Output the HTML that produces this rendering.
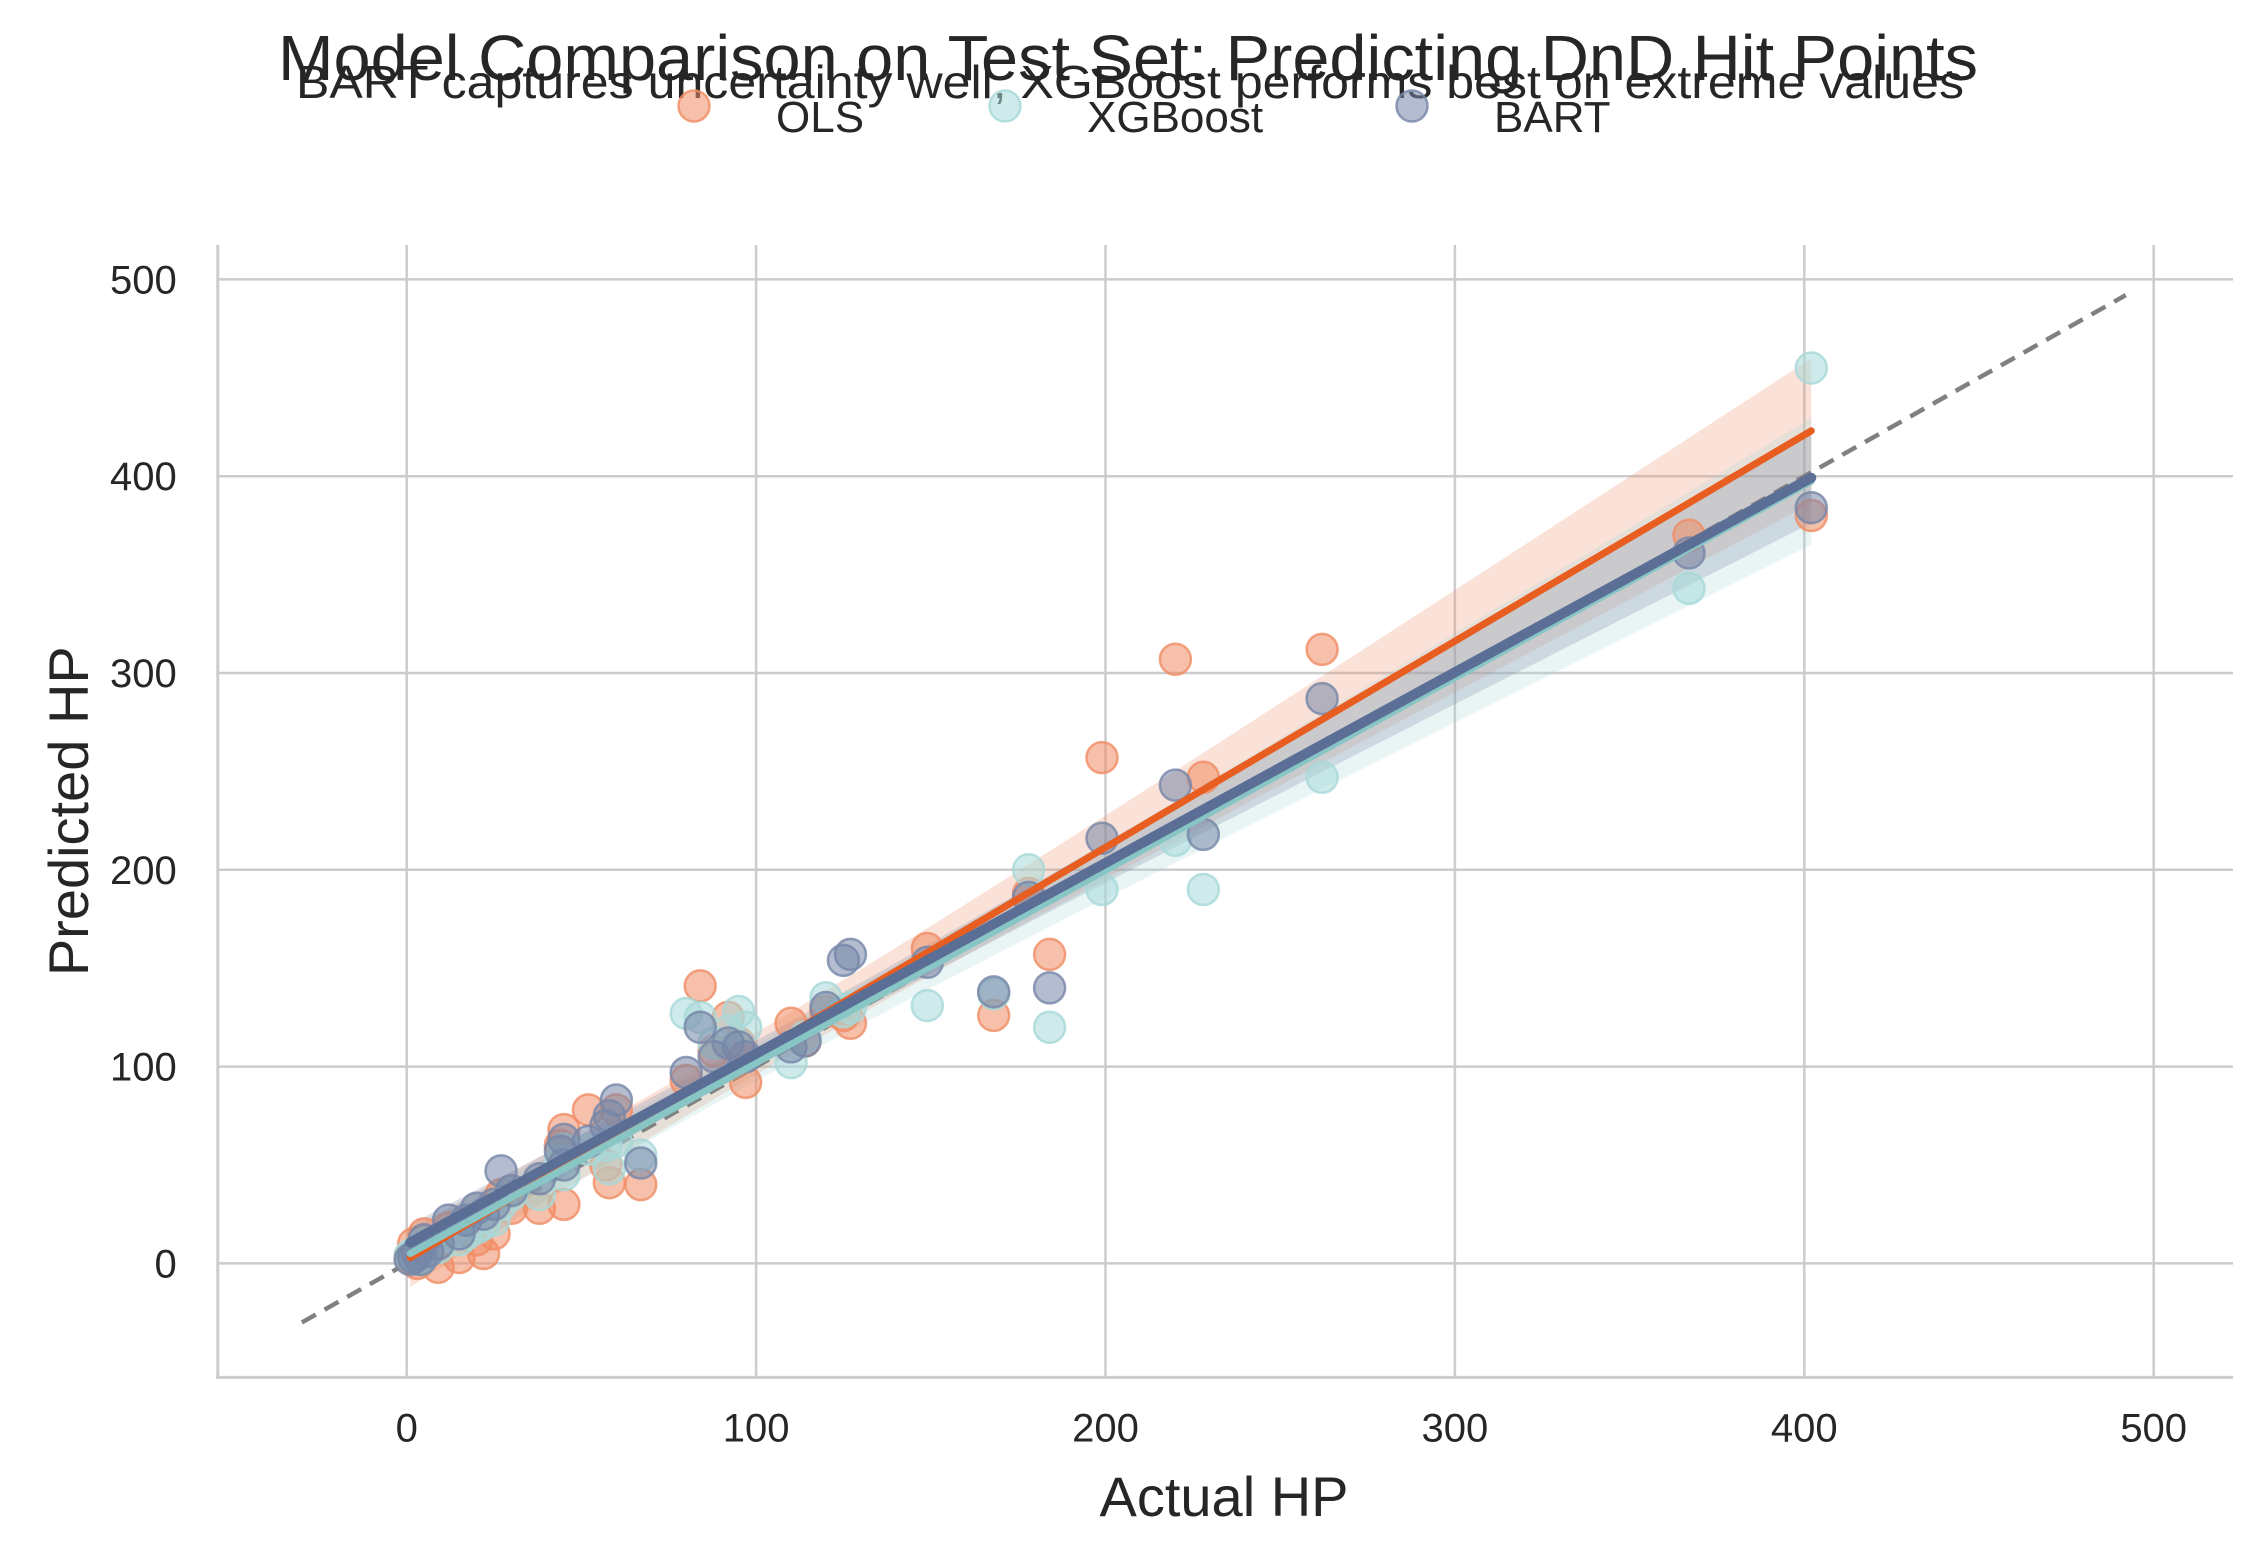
<!DOCTYPE html>
<html><head><meta charset="utf-8"><style>
html,body{margin:0;padding:0;background:#fff;}
svg{display:block;font-family:"Liberation Sans",Arial,sans-serif;}
</style></head><body>
<svg id="chart" width="2250" height="1552" viewBox="0 0 2250 1552" xmlns="http://www.w3.org/2000/svg">
<text x="1128" y="80" text-anchor="middle" font-size="64" fill="#262626" textLength="1700" lengthAdjust="spacingAndGlyphs">Model Comparison on Test Set: Predicting DnD Hit Points</text>
<text x="1130" y="98" text-anchor="middle" font-size="46" fill="#262626" textLength="1668" lengthAdjust="spacingAndGlyphs">BART captures uncertainty well, XGBoost performs best on extreme values</text>
<g id="legend"></g>
<g id="grid"></g>
<g id="plot"></g>
<g id="axes"></g>
</svg>
<script>
const actual = [402,367,262,228,220,199,184,178,168,149,127,125,120,110,114,97,95,92,88,84,80,67,60,58,57,52,45,45,44,38,27,30,25,22,20,17,15,12,9,5,3,2,4,6,1];
const olsPred = [380,370,312,247,307,257,157,188,126,160,122,126,128,122,113,92,112,125,108,141,93,40,78,41,50,78,68,30,60,28,35,28,15,5,12,20,3,18,-2,15,0,10,5,8,3];
const xgbPred = [455,343,247,190,215,190,120,200,137,131,130,128,135,102,115,120,128,118,112,125,127,55,62,48,60,58,58,45,52,35,30,35,22,20,18,15,12,14,8,10,3,5,2,6,4];
const bartPred = [384,361,287,218,243,216,140,186,138,153,157,154,130,110,113,105,110,112,105,120,97,51,83,75,70,62,63,50,57,43,47,37,30,25,28,22,15,22,10,12,5,3,2,6,2];
const xTicks = [0,100,200,300,400,500];
const yTicks = [0,100,200,300,400,500];
const seriesNames = ["OLS","XGBoost","BART"];

const NS="http://www.w3.org/2000/svg";
const X0=406.7, XS=3.494, Y0=1263.4, YS=1.968;
const xs=v=>X0+v*XS, ys=v=>Y0-v*YS;
const L=217.8,R=2233,T=245,B=1377.4;
function mk(tag,attrs,parent){const e=document.createElementNS(NS,tag);for(const k in attrs)e.setAttribute(k,attrs[k]);parent.appendChild(e);return e;}
const grid=document.getElementById('grid'),plot=document.getElementById('plot'),axes=document.getElementById('axes'),legend=document.getElementById('legend');

xTicks.forEach(t=>{
  const l=mk('line',{x1:xs(t),x2:xs(t),y1:T,y2:B,stroke:'#cccccc','stroke-width':2.5},grid);
  
  
  const tx=mk('text',{x:xs(t),y:B+64,'text-anchor':'middle','font-size':40,fill:'#262626'},axes);
  tx.textContent=t;
  
  
});
yTicks.forEach(t=>{
  const l=mk('line',{x1:L,x2:R,y1:ys(t),y2:ys(t),stroke:'#cccccc','stroke-width':2.5},grid);
  
  
  const tx=mk('text',{x:L-41,y:ys(t)+14,'text-anchor':'end','font-size':40,fill:'#262626'},axes);
  tx.textContent=t;
  
  
});
const sp1=mk('line',{x1:L,x2:L,y1:T,y2:B+1.5,stroke:'#cccccc','stroke-width':3},axes);


const sp2=mk('line',{x1:L-1.5,x2:R,y1:B,y2:B,stroke:'#cccccc','stroke-width':3},axes);


const xl=mk('text',{x:1224,y:1516,'text-anchor':'middle','font-size':56,fill:'#262626'},axes);
xl.textContent='Actual HP';


const yl=mk('text',{x:0,y:0,'text-anchor':'middle','font-size':56,fill:'#262626',transform:`translate(88,${(T+B)/2}) rotate(-90)`},axes);
yl.textContent='Predicted HP';



const colors={OLS:{fill:'#f08c64',line:'#e85d20'},XGBoost:{fill:'#a8d8d8',line:'#88c6c6'},BART:{fill:'#7686a8',line:'#5a6e96'}};
const preds={OLS:olsPred,XGBoost:xgbPred,BART:bartPred};

function fit(x,y){
  const n=x.length,mx=x.reduce((a,b)=>a+b)/n,my=y.reduce((a,b)=>a+b)/n;
  let sxx=0,sxy=0;for(let i=0;i<n;i++){sxx+=(x[i]-mx)**2;sxy+=(x[i]-mx)*(y[i]-my);}
  const b=sxy/sxx,a=my-b*mx;let sse=0;for(let i=0;i<n;i++)sse+=(y[i]-a-b*x[i])**2;
  const s=Math.sqrt(sse/(n-2));return {a,b,s,mx,sxx,n};
}
const xmin=Math.min(...actual),xmax=Math.max(...actual);
const fits={};
seriesNames.forEach(nm=>{
  const f=fit(actual,preds[nm]);fits[nm]=f;
  let up=[],lo=[];
  for(let k=0;k<=40;k++){const x=xmin+(xmax-xmin)*k/40;const yh=f.a+f.b*x;
    const se=f.s*Math.sqrt(1/f.n+(x-f.mx)**2/f.sxx)*3.0;up.push([xs(x),ys(yh+se)]);lo.push([xs(x),ys(yh-se)]);}
  const pts=up.concat(lo.reverse()).map(p=>p.join(',')).join(' ');
  const band=mk('polygon',{points:pts,fill:colors[nm].fill,'fill-opacity':0.25,stroke:'none'},plot);
  
  
});
const diag=mk('line',{x1:xs(-30),y1:ys(-30),x2:xs(492),y2:ys(492),stroke:'#808080','stroke-width':4.5,'stroke-dasharray':'16,10'},plot);


seriesNames.forEach(nm=>{
  preds[nm].forEach((v,i)=>{
    const c=mk('circle',{cx:xs(actual[i]),cy:ys(v),r:15.5,fill:colors[nm].fill,'fill-opacity':0.55,stroke:colors[nm].fill,'stroke-opacity':0.8,'stroke-width':2.5},plot);
    
    
  });
});
seriesNames.forEach(nm=>{
  const f=fits[nm];
  const ln=mk('line',{x1:xs(xmin),y1:ys(f.a+f.b*xmin),x2:xs(xmax),y2:ys(f.a+f.b*xmax),stroke:colors[nm].line,'stroke-width':nm==='BART'?10:7,'stroke-linecap':'round'},plot);
  
  
});
const legX=[694,1005,1412];
seriesNames.forEach((nm,i)=>{
  const c=mk('circle',{cx:legX[i],cy:106,r:15.5,fill:colors[nm].fill,'fill-opacity':0.55,stroke:colors[nm].fill,'stroke-opacity':0.8,'stroke-width':2.5},legend);
  
  
  const t=mk('text',{x:legX[i]+82,y:132,'text-anchor':'start','font-size':44,fill:'#262626'},legend);
  t.textContent=nm;
  
  
});
</script>
</body></html>
